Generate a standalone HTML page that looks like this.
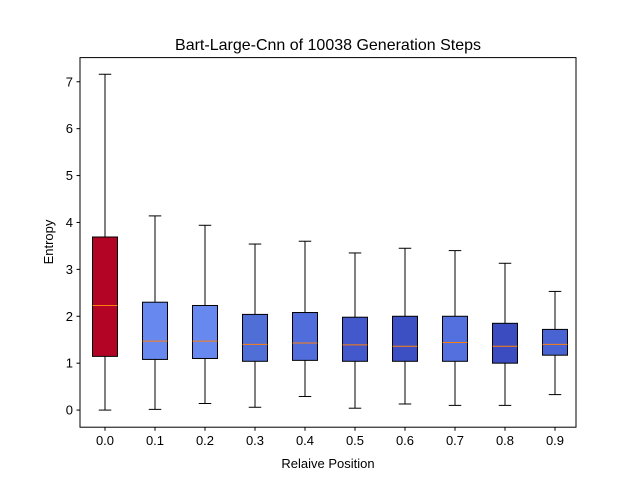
<!DOCTYPE html>
<html><head><meta charset="utf-8"><style>body{margin:0;background:#fff}svg{display:block}text{font-family:"Liberation Sans","DejaVu Sans",sans-serif;fill:#000}</style></head>
<body>
<svg id="chart" width="640" height="480">
<rect width="640" height="480" fill="#fff"/>
<text x="328" y="50" font-size="16" text-anchor="middle">Bart-Large-Cnn of 10038 Generation Steps</text>
<text x="328" y="468" font-size="13" text-anchor="middle">Relaive Position</text>
<text x="53" y="242" font-size="13" text-anchor="middle" transform="rotate(-90 53 242)">Entropy</text>
<g id="plot"></g>
<rect x="80" y="57.6" width="496" height="369.6" fill="none" stroke="#000" stroke-width="1"/>
</svg>
<script>
const categories = ["0.0","0.1","0.2","0.3","0.4","0.5","0.6","0.7","0.8","0.9"];
const positions = [0,0.1,0.2,0.3,0.4,0.5,0.6,0.7,0.8,0.9];
const whiskerLow = [0.00,0.015,0.14,0.06,0.29,0.04,0.13,0.10,0.10,0.33];
const q1 = [1.145,1.08,1.10,1.04,1.06,1.04,1.04,1.04,1.00,1.17];
const medians = [2.23,1.47,1.47,1.40,1.43,1.39,1.36,1.44,1.36,1.40];
const q3 = [3.69,2.30,2.23,2.04,2.08,1.98,2.00,2.00,1.85,1.72];
const whiskerHigh = [7.16,4.14,3.94,3.54,3.60,3.35,3.45,3.40,3.13,2.53];
const boxColors = ["#b40426","#6788ee","#6788ee","#4f6fd6","#516ddb","#4358cb","#3d50c3","#5470de","#3b4cc0","#4a63d3"];
const yTicks = [0,1,2,3,4,5,6,7];

const L=80,R=576,T=57.6,B=427.2, xmin=-0.05, xmax=0.942, ymin=-0.365, ymax=7.515;
const xs=v=>L+(v-xmin)/(xmax-xmin)*(R-L);
const ys=v=>B-(v-ymin)/(ymax-ymin)*(B-T);
const ns="http://www.w3.org/2000/svg";
const g=document.getElementById('plot');
function mk(tag,attrs){const e=document.createElementNS(ns,tag);for(const k in attrs)e.setAttribute(k,attrs[k]);g.appendChild(e);return e;}
yTicks.forEach(t=>{
  const y=ys(t);
  const l=mk('line',{x1:L-3.5,x2:L,y1:y,y2:y,stroke:'#000'});
  
  
  const tx=mk('text',{x:L-7,y:y+4.5,'font-size':13,'text-anchor':'end'});
  tx.textContent=t;
  
  
});
categories.forEach((c,i)=>{
  const x=xs(positions[i]);
  const hw=xs(0.025)-xs(0), cw=xs(0.0125)-xs(0);
  const l=mk('line',{x1:x,x2:x,y1:B,y2:B+3.5,stroke:'#000'});
  
  
  const tx=mk('text',{x:x,y:B+18,'font-size':13,'text-anchor':'middle'});
  tx.textContent=c;
  
  
  const w1=mk('line',{x1:x,x2:x,y1:ys(whiskerLow[i]),y2:ys(q1[i]),stroke:'#000'});
  
  
  const w2=mk('line',{x1:x,x2:x,y1:ys(q3[i]),y2:ys(whiskerHigh[i]),stroke:'#000'});
  
  
  const c1=mk('line',{x1:x-cw,x2:x+cw,y1:ys(whiskerLow[i]),y2:ys(whiskerLow[i]),stroke:'#000'});
  
  
  const c2=mk('line',{x1:x-cw,x2:x+cw,y1:ys(whiskerHigh[i]),y2:ys(whiskerHigh[i]),stroke:'#000'});
  
  
  const b=mk('rect',{x:x-hw,y:ys(q3[i]),width:2*hw,height:ys(q1[i])-ys(q3[i]),fill:boxColors[i],stroke:'#000'});
  
  
  const m=mk('line',{x1:x-hw,x2:x+hw,y1:ys(medians[i]),y2:ys(medians[i]),stroke:'#ff7f0e'});
  
  
});
</script>
</body></html>
